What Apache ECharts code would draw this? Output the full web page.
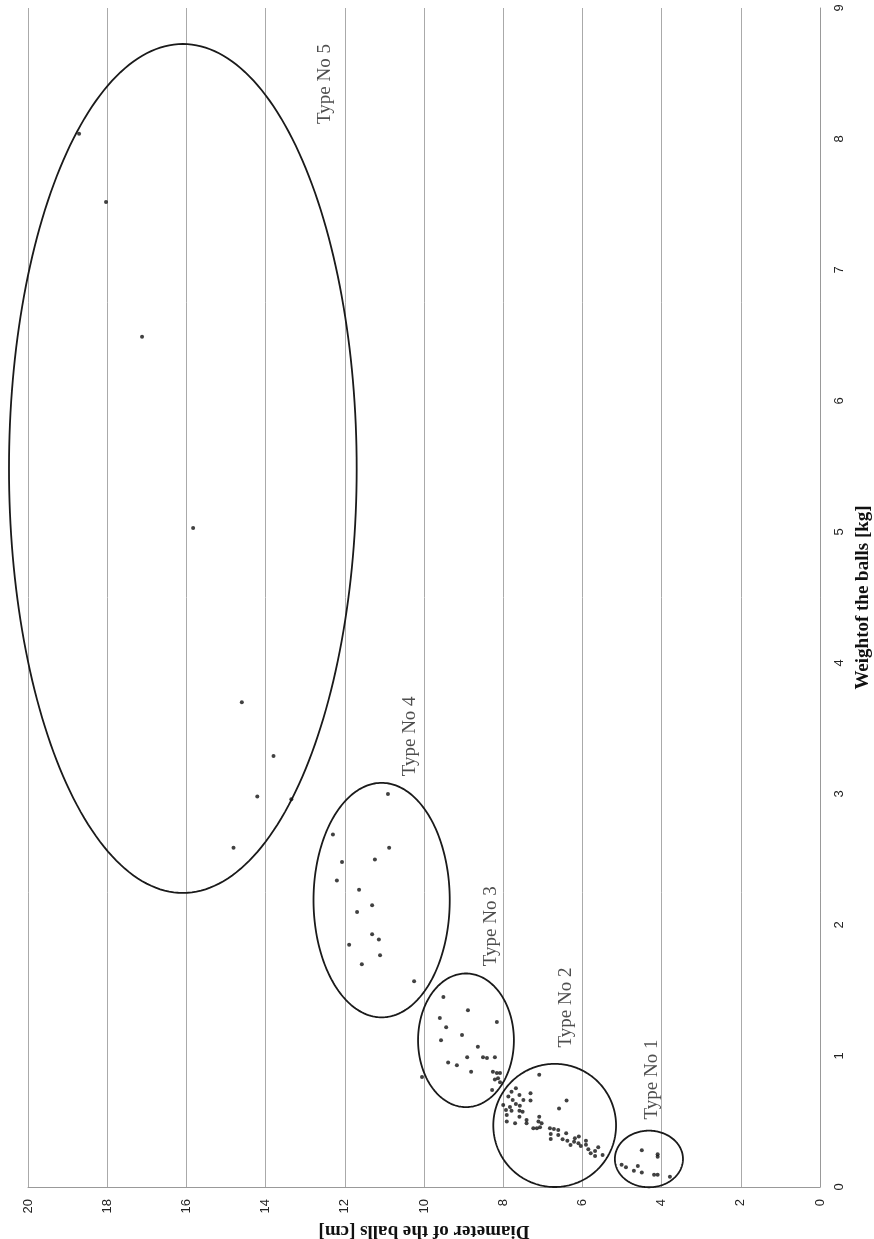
<!DOCTYPE html>
<html><head><meta charset="utf-8">
<script src="https://cdn.jsdelivr.net/npm/echarts@6/dist/echarts.min.js"></script>
<style>html,body{margin:0;padding:0;background:#fff}#c{width:874px;height:1239px}</style>
</head><body><div id="c"></div>
<script>
// [diameter cm, weight kg]
const type1 = [[4.50,0.28],[4.10,0.25],[4.10,0.23],[5.01,0.17],[4.90,0.15],[4.60,0.16],[4.70,0.125],[4.50,0.11],[4.19,0.094],[4.10,0.094],[3.79,0.079]];
const type2 = [[7.09,0.856],[6.40,0.66],[6.59,0.60],[7.31,0.716],[7.31,0.66],[7.68,0.754],[7.79,0.728],[7.59,0.703],[7.87,0.69],[7.76,0.665],[8.0,0.626],[7.68,0.634],[7.58,0.621],[7.93,0.588],[7.79,0.583],[7.59,0.583],[7.51,0.575],[7.91,0.55],[7.59,0.537],[7.91,0.50],[7.70,0.487],[7.41,0.512],[7.41,0.487],[7.09,0.537],[7.11,0.50],[7.03,0.487],[7.24,0.448],[7.15,0.448],[7.07,0.456],[6.82,0.448],[6.72,0.443],[6.61,0.435],[6.80,0.405],[6.61,0.397],[6.41,0.41],[6.80,0.367],[6.50,0.364],[6.38,0.354],[6.30,0.321],[6.19,0.372],[6.09,0.385],[6.21,0.346],[6.10,0.334],[6.04,0.313],[5.91,0.354],[5.91,0.323],[5.85,0.288],[5.79,0.257],[5.68,0.237],[5.60,0.303],[5.68,0.275],[5.49,0.244],[7.83,0.61],[7.49,0.665]];
const type3 = [[10.05,0.84],[9.60,1.29],[9.44,1.22],[9.57,1.12],[9.39,0.95],[9.17,0.93],[9.04,1.16],[8.91,0.99],[8.81,0.88],[8.64,1.07],[8.16,1.26],[8.89,1.35],[9.51,1.45],[8.51,0.99],[8.41,0.985],[8.21,0.99],[8.26,0.88],[8.16,0.87],[8.08,0.87],[8.13,0.83],[8.21,0.82],[8.08,0.80],[8.28,0.74]];
const type4 = [[12.30,2.69],[12.07,2.48],[12.20,2.34],[11.64,2.27],[11.69,2.10],[11.31,2.15],[11.31,1.93],[11.24,2.50],[11.14,1.89],[11.11,1.77],[11.89,1.85],[11.57,1.70],[10.25,1.57],[10.88,2.59],[10.91,3.0]];
const type5 = [[18.71,8.04],[18.03,7.52],[17.12,6.49],[15.83,5.03],[14.60,3.70],[13.80,3.29],[14.21,2.98],[13.35,2.96],[14.81,2.59]];
// ellipse: [centre diameter, centre weight, half-width (cm), half-height (kg)]
const ellipses = [[4.32,0.214,0.86,0.216],[6.70,0.47,1.55,0.47],[8.94,1.12,1.21,0.51],[11.07,2.19,1.72,0.895],[16.09,5.485,4.39,3.24]];
const typeNames = ['Type No 1','Type No 2','Type No 3','Type No 4','Type No 5'];
const namePos = [[4.24,0.82],[6.41,1.37],[8.31,1.99],[10.35,3.44],[12.5,8.42]];
const diameterRange = [0, 20, 2];
const weightRange = [0, 9, 1];

const chart = echarts.init(document.getElementById('c'));
const dot = {type:'scatter', symbol:'circle', symbolSize:4, itemStyle:{color:'#111'}, silent:true};
chart.setOption({
  animation:false,
  backgroundColor:'#fff',
  grid:{left:28, right:54, top:8, bottom:52, containLabel:false, outerBoundsMode:'none'},
  xAxis:{type:'value', min:diameterRange[0], max:diameterRange[1], interval:diameterRange[2], inverse:true, position:'bottom',
    name:'Diameter of the balls [cm]', nameLocation:'middle', nameGap:28, nameRotate:180,
    nameTextStyle:{fontFamily:'Liberation Serif', fontWeight:'bold', fontSize:19, color:'#111'},
    axisLine:{show:true, lineStyle:{color:'#999', width:1}}, axisTick:{show:false},
    axisLabel:{rotate:90, margin:12, fontFamily:'Liberation Sans', fontSize:13, color:'#222'},
    splitLine:{show:true, lineStyle:{color:'#aaa', width:1}}},
  yAxis:{type:'value', min:weightRange[0], max:weightRange[1], interval:weightRange[2], position:'right',
    name:'Weightof the balls [kg]', nameLocation:'middle', nameGap:30, nameRotate:90,
    nameTextStyle:{fontFamily:'Liberation Serif', fontWeight:'bold', fontSize:19, color:'#111'},
    axisLine:{show:true, lineStyle:{color:'#999', width:1}}, axisTick:{show:false},
    axisLabel:{rotate:90, margin:13, fontFamily:'Liberation Sans', fontSize:13, color:'#222'},
    splitLine:{show:false}},
  series:[
    Object.assign({name:'Type No 1', data:type1}, dot),
    Object.assign({name:'Type No 2', data:type2}, dot),
    Object.assign({name:'Type No 3', data:type3}, dot),
    Object.assign({name:'Type No 4', data:type4}, dot),
    Object.assign({name:'Type No 5', data:type5}, dot),
    {type:'custom', data:ellipses, silent:true, clip:false,
     renderItem:function(params, api){
       const c = api.coord([api.value(0), api.value(1)]);
       const s = api.size([api.value(2), api.value(3)]);
       const rx = Math.abs(s[0]), ry = Math.abs(s[1]);
       const pts = [];
       for (let i = 0; i < 240; i++) { const t = i/240*2*Math.PI; pts.push([c[0]+rx*Math.cos(t), c[1]+ry*Math.sin(t)]); }
       return {type:'polygon', shape:{points:pts}, style:{fill:'none', stroke:'#1a1a1a', lineWidth:1.8}};
     }},
    {type:'scatter', data:namePos.map((p,i)=>({value:p, name:typeNames[i]})), symbolSize:0, silent:true,
     label:{show:true, position:'inside', rotate:90, formatter:'{b}', fontFamily:'Liberation Serif', fontSize:19, color:'#222'}}
  ]
});
</script></body></html>
